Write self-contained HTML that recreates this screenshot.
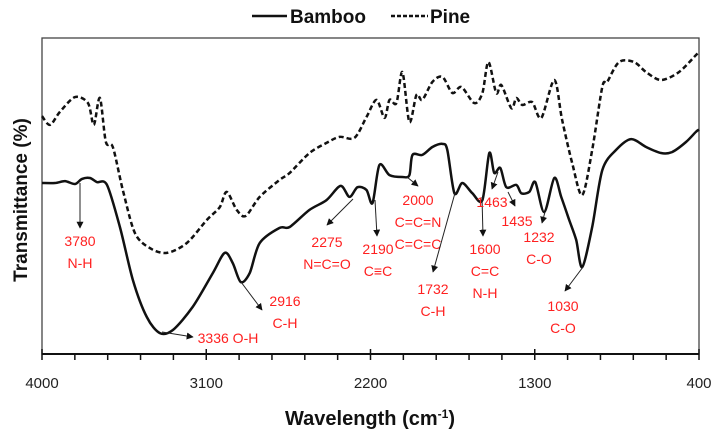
<!DOCTYPE html>
<html><head><meta charset="utf-8">
<style>
body{margin:0;background:#fff;}
svg{display:block;font-family:"Liberation Sans",sans-serif;}
.ann{fill:#ff2020;font-size:14px;text-anchor:middle;}
</style></head>
<body>
<svg id="chart" width="721" height="436" viewBox="0 0 721 436">
</svg>
<script>
const bambooWn=[4000,3929,3874,3819,3781,3737,3699,3644,3573,3502,3426,3354,3283,3174,3064,2999,2955,2911,2862,2807,2698,2643,2534,2441,2364,2315,2271,2222,2189,2151,2096,2025,1987,1970,1916,1861,1806,1779,1740,1697,1642,1587,1549,1522,1489,1456,1401,1374,1330,1297,1248,1193,1155,1111,1073,1040,985,930,854,772,690,608,548,471,417,400];
const bambooVal=[54.1,54.1,54.7,53.8,55.4,55.7,54.4,53.5,40.2,23.4,11.7,6.6,7.6,14.9,25.6,32.0,28.8,22.8,25.6,35.1,39.9,40.2,45.6,48.7,53.2,49.7,52.8,51.9,47.8,59.8,56.6,56.0,56.6,63.0,63.0,65.5,66.5,64.6,50.9,54.1,50.9,48.7,63.6,57.3,58.9,52.8,53.5,50.9,51.3,54.4,44.9,55.7,49.7,42.4,36.1,27.5,40.2,58.2,64.6,68.0,65.5,63.6,63.9,67.1,70.3,71.0];
const pineWn=[4000,3956,3902,3819,3748,3716,3683,3650,3612,3557,3491,3409,3316,3207,3097,3026,2988,2933,2884,2807,2698,2643,2534,2441,2370,2288,2222,2167,2123,2096,2058,2025,1987,1948,1916,1861,1806,1751,1702,1631,1587,1554,1511,1483,1428,1401,1368,1314,1264,1193,1150,1095,1040,985,930,903,838,756,690,608,510,417,400];
const pineVal=[75.3,72.5,76.6,81.3,79.4,72.5,81.0,67.1,65.5,51.9,38.3,33.5,32.0,35.1,42.4,46.5,51.3,45.6,43.7,49.7,55.1,57.3,63.6,66.8,68.7,68.4,75.0,80.4,74.7,80.4,79.4,89.2,73.4,82.0,80.4,86.1,87.7,82.6,84.5,79.4,82.6,92.4,82.6,85.1,77.8,81.0,78.8,79.7,74.7,86.7,74.1,60.4,50.3,64.6,84.5,86.1,92.4,92.4,89.2,86.7,89.2,94.6,95.5];
const tickLabels=[4000,3100,2200,1300,400];
const X0=42,X1=699,Y0=354,YT=38;
function xs(w){return X0+(4000-w)/3600*(X1-X0);}
function ys(v){return Y0-v*3.16;}
const svg=document.getElementById('chart');
const NS='http://www.w3.org/2000/svg';
function mk(tag,attrs,parent){const e=document.createElementNS(NS,tag);for(const k in attrs)e.setAttribute(k,attrs[k]);(parent||svg).appendChild(e);return e;}
let fr=mk('rect',{x:X0,y:YT,width:X1-X0,height:Y0-YT,fill:'none',stroke:'#444','stroke-width':1.3});


let ax=mk('line',{x1:X0,y1:Y0,x2:X1,y2:Y0,stroke:'#111','stroke-width':2});


for(let w=4000;w>=400;w-=180){
  const major=(4000-w)%900===0;
  let t=mk('line',{x1:xs(w),y1:major?Y0-5:Y0,x2:xs(w),y2:Y0+6,stroke:'#111','stroke-width':1.5});
  
  
}
tickLabels.forEach(w=>{
  let t=mk('text',{x:xs(w),y:388,'font-size':15,'text-anchor':'middle',fill:'#222'});
  t.textContent=w;
  
  
});
function path(wn,val){
  const p=wn.map((w,i)=>[xs(w),ys(val[i])]);
  let d='M'+p[0][0].toFixed(1)+','+p[0][1].toFixed(1);
  for(let i=0;i<p.length-1;i++){
    const a=p[i-1]||p[i],b=p[i],c=p[i+1],e=p[i+2]||c,k=0.15;
    d+='C'+(b[0]+(c[0]-a[0])*k).toFixed(1)+','+(b[1]+(c[1]-a[1])*k).toFixed(1)+' '+(c[0]-(e[0]-b[0])*k).toFixed(1)+','+(c[1]-(e[1]-b[1])*k).toFixed(1)+' '+c[0].toFixed(1)+','+c[1].toFixed(1);
  }
  return d;
}
let pp=mk('path',{d:path(pineWn,pineVal),fill:'none',stroke:'#111','stroke-width':2.5,'stroke-dasharray':'5,3','stroke-linejoin':'round'});


let bp=mk('path',{d:path(bambooWn,bambooVal),fill:'none',stroke:'#111','stroke-width':2.5,'stroke-linejoin':'round'});


const anns=[
 {a:[80,183,80,228],lines:['3780','N-H'],x:80,y:246},
 {a:[162,332,193,337],lines:['3336 O-H'],x:228,y:343},
 {a:[241,282,262,310],lines:['2916','C-H'],x:285,y:306},
 {a:[353,199,327,225],lines:['2275','N=C=O'],x:327,y:247},
 {a:[375,200,377,236],lines:['2190','C≡C'],x:378,y:254},
 {a:[407,177,418,186],lines:['2000','C=C=N','C=C=C'],x:418,y:205},
 {a:[455,193,433,272],lines:['1732','C-H'],x:433,y:294},
 {a:[482,197,483,236],lines:['1600','C=C','N-H'],x:485,y:254},
 {a:[498,172,492,189],lines:['1463'],x:492,y:207},
 {a:[508,192,515,206],lines:['1435'],x:517,y:226},
 {a:[545,212,542,223],lines:['1232','C-O'],x:539,y:242},
 {a:[583,267,565,291],lines:['1030','C-O'],x:563,y:311}
];
const defs=mk('defs',{});
const m=mk('marker',{id:'ah',viewBox:'0 0 10 10',refX:9,refY:5,markerWidth:7,markerHeight:7,orient:'auto'},defs);
mk('path',{d:'M0,0L10,5L0,10z',fill:'#111'},m);
anns.forEach(o=>{
  let l=mk('line',{x1:o.a[0],y1:o.a[1],x2:o.a[2],y2:o.a[3],stroke:'#222','stroke-width':1,'marker-end':'url(#ah)'});
  
  
  o.lines.forEach((s,i)=>{
    let t=mk('text',{x:o.x,y:o.y+i*22,class:'ann'});
    t.textContent=s;
    
    
  });
});
</script>
<div style="position:absolute;left:0;top:0;width:721px;height:436px;pointer-events:none">
  <svg width="721" height="436" style="position:absolute;left:0;top:0">
    <g>
      <line x1="252" y1="16" x2="287" y2="16" stroke="#111" stroke-width="2.5"/>
      <text x="290" y="23" font-size="19" font-weight="bold" font-family="Liberation Sans, sans-serif" fill="#111">Bamboo</text>
      <line x1="391" y1="16" x2="428" y2="16" stroke="#111" stroke-width="2.5" stroke-dasharray="4,2"/>
      <text x="430" y="23" font-size="19" font-weight="bold" font-family="Liberation Sans, sans-serif" fill="#111">Pine</text>
    </g>
    <text transform="translate(27,200) rotate(-90)" text-anchor="middle" font-size="19" font-weight="bold" font-family="Liberation Sans, sans-serif" fill="#111">Transmittance (%)</text>
    <text x="370" y="425" text-anchor="middle" font-size="20" font-weight="bold" font-family="Liberation Sans, sans-serif" fill="#111">Wavelength (cm<tspan font-size="12" dy="-7">-1</tspan><tspan dy="7">)</tspan></text>
  </svg>
</div>
</body></html>
